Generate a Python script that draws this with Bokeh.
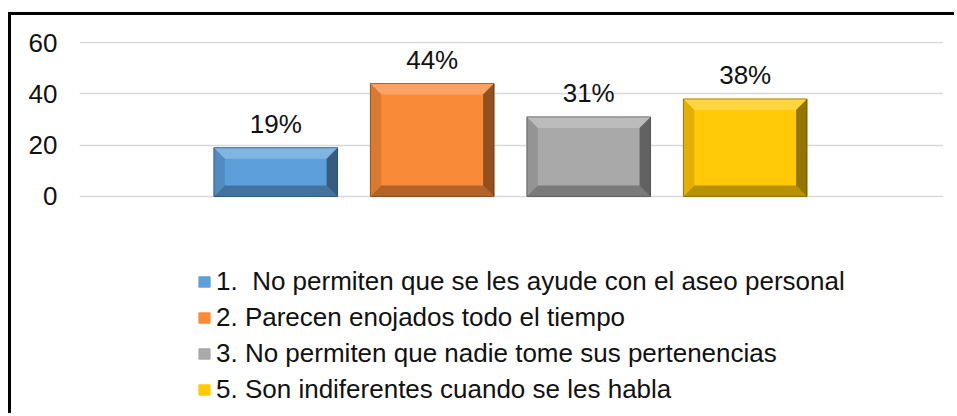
from bokeh.plotting import figure
from bokeh.models import Range1d, ColumnDataSource, LabelSet, Legend, LegendItem, FixedTicker
from bokeh.core.properties import value
from bokeh.embed import file_html
from bokeh.resources import INLINE

# ---- data ----
categories = ["1.  No permiten que se les ayude con el aseo personal",
              "2. Parecen enojados todo el tiempo",
              "3. No permiten que nadie tome sus pertenencias",
              "5. Son indiferentes cuando se les habla"]
values = [19, 44, 31, 38]
pct_labels = ["19%", "44%", "31%", "38%"]
colors = ["#5D9FDB", "#F98A38", "#A9A9A9", "#FFC907"]
y_ticks = [0, 20, 40, 60]

FONT = "Liberation Sans"
FS = "26px"
xs = [i + 1 for i in range(len(values))]
bar_w = 0.79

# frame extends below the bars so the legend sits inside it
p = figure(width=946, height=401, output_backend="svg", toolbar_location=None,
           x_range=Range1d(-0.254, 5.267), y_range=Range1d(-84.2, 60.4),
           x_axis_location=None,
           min_border_left=68, min_border_right=14, min_border_top=26, min_border_bottom=4)
p.styles = {"border-left": "3px solid black", "border-top": "3px solid black",
            "margin-top": "12px", "margin-left": "8px"}
p.outline_line_color = None
p.background_fill_color = "white"
p.border_fill_color = "white"

p.xgrid.visible = False
p.ygrid.grid_line_color = "#D9D9D9"
p.ygrid.grid_line_width = 1.5
p.ygrid.ticker = FixedTicker(ticks=y_ticks)
p.yaxis.ticker = FixedTicker(ticks=y_ticks)
p.yaxis.axis_line_color = None
p.yaxis.major_tick_line_color = None
p.yaxis.minor_tick_line_color = None
p.yaxis.major_tick_out = 0
p.yaxis.major_tick_in = 0
p.yaxis.major_label_standoff = 22
p.yaxis.major_label_text_font = FONT
p.yaxis.major_label_text_font_size = FS
p.yaxis.major_label_text_color = "#111111"

# bevel sizes (in data units, ~11px)
bx = 0.07
by = 4.3

items = []
for x, v, c, lab in zip(xs, values, colors, categories):
    src = ColumnDataSource(dict(x=[x], top=[v]))
    r = p.vbar(x="x", top="top", width=bar_w, source=src, fill_color=c,
               line_color=c, line_width=1)
    items.append(LegendItem(label=lab, renderers=[r]))
    x0 = x - bar_w / 2
    x1 = x + bar_w / 2
    ex = min(bx, bar_w / 2)
    ey = min(by, v / 2)
    p.patch([x0, x1, x1 - ex, x0 + ex], [v, v, v - ey, v - ey],
            fill_color="white", fill_alpha=0.22, line_color=None)
    p.patch([x0, x0, x0 + ex, x0 + ex], [0, v, v - ey, ey],
            fill_color="black", fill_alpha=0.12, line_color=None)
    p.patch([x1, x1, x1 - ex, x1 - ex], [0, v, v - ey, ey],
            fill_color="black", fill_alpha=0.42, line_color=None)
    p.patch([x0, x1, x1 - ex, x0 + ex], [0, 0, ey, ey],
            fill_color="black", fill_alpha=0.28, line_color=None)
    p.quad(left=[x0], right=[x1], bottom=[0], top=[v], fill_color=None,
           line_color="black", line_alpha=0.35, line_width=1)

lab_src = ColumnDataSource(dict(x=xs, y=values, t=pct_labels))
p.add_layout(LabelSet(x="x", y="y", text="t", source=lab_src, y_offset=15,
                      text_align="center", text_baseline="alphabetic",
                      text_font=value(FONT), text_font_size=value(FS),
                      text_color=value("#111111")))

legend = Legend(items=items, location=(118, 7), orientation="vertical",
                label_text_font=FONT, label_text_font_size=FS,
                label_text_color="#111111",
                glyph_width=14, glyph_height=13, label_standoff=5,
                label_height=30, spacing=5, padding=0, margin=0,
                border_line_color=None, background_fill_alpha=0)
p.add_layout(legend, "center")

open("out.html", "w").write(file_html(p, INLINE))
